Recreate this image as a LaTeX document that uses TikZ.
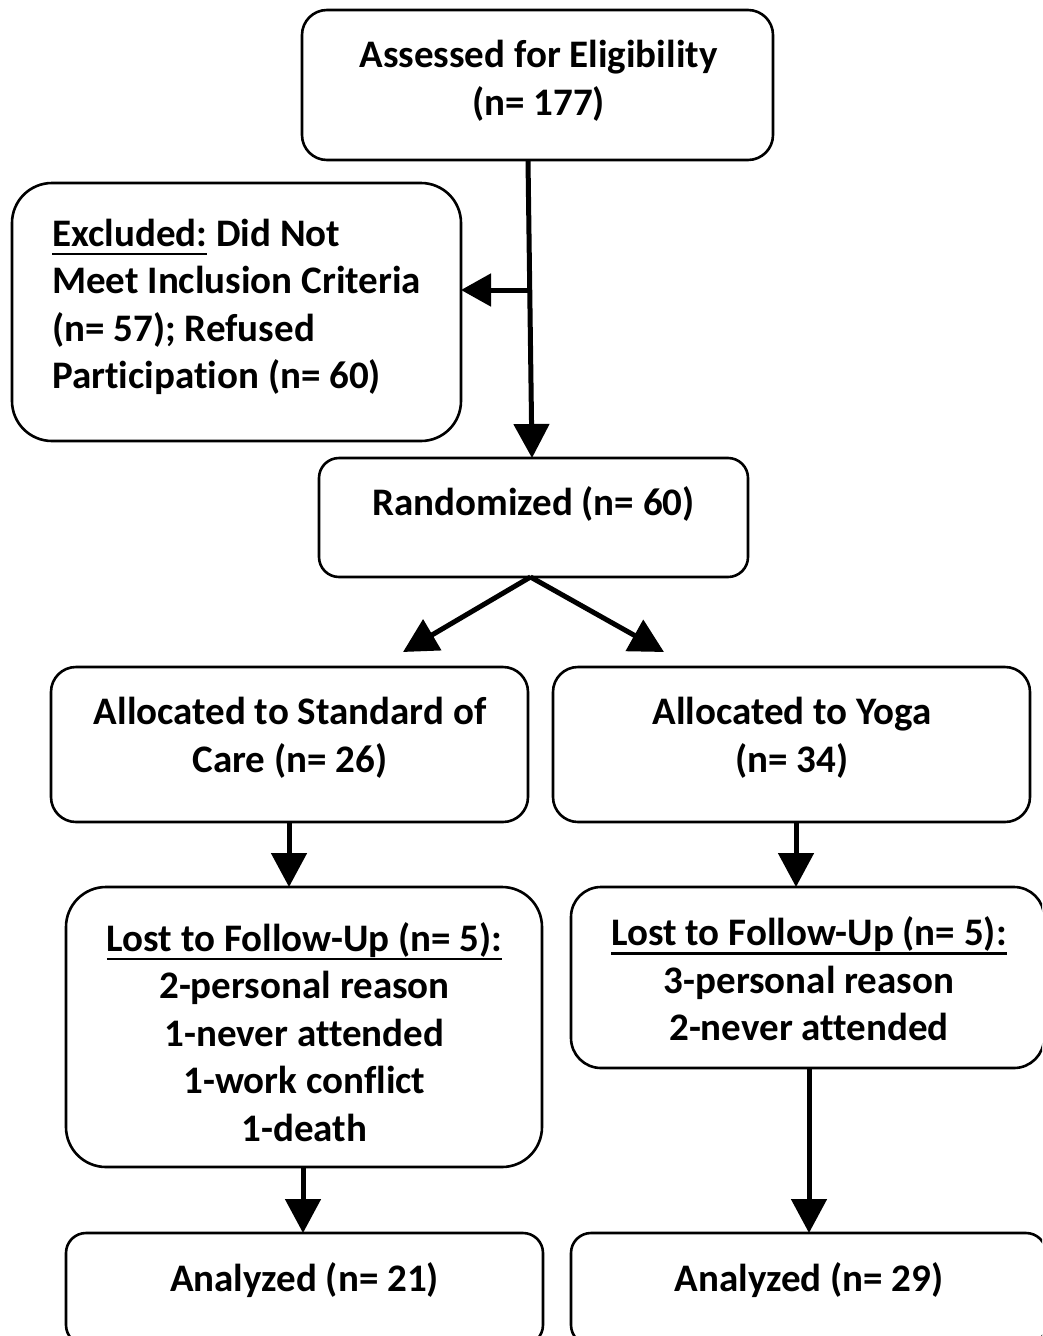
\documentclass[tikz,border=0pt]{standalone}
\usepackage{fontspec}
\setmainfont{Carlito}[Ligatures=NoCommon]
\usetikzlibrary{arrows.meta,calc}
\newcommand{\ulx}[1]{\setbox0\hbox{#1}\rlap{\rule[-9pt]{\wd0}{2.8pt}}\box0\relax}
\begin{document}
\begin{tikzpicture}[x=1pt,y=-1pt,
  box/.style={draw, line width=2.6pt, inner sep=0pt, outer sep=0pt},
  txt/.style={inner sep=0pt, align=center, font=\fontsize{39}{47.5}\selectfont\bfseries},
  arr/.style={line width=5pt, -{Triangle[length=34pt,width=35pt]}}]
\useasboundingbox (0,0) rectangle (1042,1336);
\clip (0,0) rectangle (1042,1336);
% boxes
\node[box, rounded corners=25pt, minimum width=471pt, minimum height=150pt] (assess) at (537.5,85) {};
\node[box, rounded corners=40pt, minimum width=449pt, minimum height=258pt] (excl) at (236.5,312) {};
\node[box, rounded corners=20pt, minimum width=429pt, minimum height=119pt] (rand) at (533.5,517.5) {};
\node[box, rounded corners=25pt, minimum width=477pt, minimum height=155pt] (allocS) at (289.5,744.5) {};
\node[box, rounded corners=25pt, minimum width=477pt, minimum height=155pt] (allocY) at (791.5,744.5) {};
\node[box, rounded corners=40pt, minimum width=476pt, minimum height=280pt] (lostS) at (304,1027) {};
\node[box, rounded corners=30pt, minimum width=473pt, minimum height=181pt] (lostY) at (807.5,977.5) {};
\node[box, rounded corners=20pt, minimum width=477pt, minimum height=112pt] (anS) at (304.5,1289) {};
\node[box, rounded corners=20pt, minimum width=475pt, minimum height=112pt] (anY) at (808.5,1289) {};
% texts
\node[txt] (tassess) at (538.5,81) {Assessed for Eligibility\\(n= 177)};
\node[txt, align=left, anchor=west] (texcl) at (52,307) {\ulx{Excluded:} Did Not\\Meet Inclusion Criteria\\(n= 57); Refused\\Participation (n= 60)};
\node[txt] (trand) at (533.5,504) {Randomized (n= 60)};
\node[txt] (tallocS) at (290,738) {Allocated to Standard of\\Care (n= 26)};
\node[txt] (tallocY) at (792,738) {Allocated to Yoga\\(n= 34)};
\node[txt] (tlostS) at (304.5,1032) {\ulx{Lost to Follow-Up (n= 5):}\\2-personal reason\\1-never attended\\1-work conflict\\1-death};
\node[txt] (tlostY) at (809,979) {\ulx{Lost to Follow-Up (n= 5):}\\3-personal reason\\2-never attended};
\node[txt] (tanS) at (304.5,1280) {Analyzed (n= 21)};
\node[txt] (tanY) at (809,1280) {Analyzed (n= 29)};
% connectors
\coordinate (br) at (529,290);
\draw[arr] ([xshift=-9.5pt]assess.south) -- ([xshift=-1.5pt]rand.north);
\draw[line width=5pt, -{Triangle[length=30pt,width=32pt]}] (br) -- (excl.east |- br);
\coordinate (rs) at ([xshift=-3pt]rand.south);
\draw[arr] (rs) -- (403,652);
\draw[arr] (rs) -- (664,652);
\draw[arr] (allocS.south -| 289,0) -- (lostS.north -| 289,0);
\draw[arr] (allocY.south -| 796,0) -- (lostY.north -| 796,0);
\draw[arr] (lostS.south -| 303,0) -- (anS.north -| 303,0);
\draw[arr] (lostY.south -| 809,0) -- (anY.north -| 809,0);
\end{tikzpicture}
\end{document}
